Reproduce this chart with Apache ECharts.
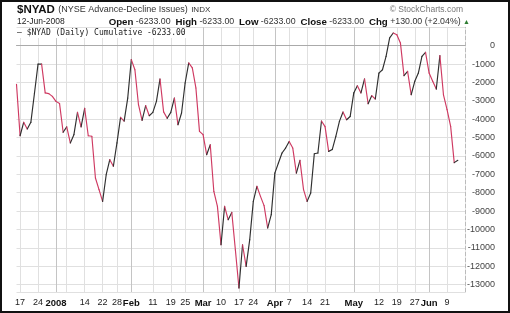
<!DOCTYPE html>
<html><head><meta charset="utf-8">
<script src="https://cdn.jsdelivr.net/npm/echarts@6/dist/echarts.min.js"></script>
<style>html,body{margin:0;padding:0;background:#fff}#c{width:510px;height:313px}</style>
</head><body><div id="c"></div>
<script>
// Trading days by month
const dec07 = [14,17,18,19,20,21,24,26,27,28,31];
const jan08 = [2,3,4,7,8,9,10,11,14,15,16,17,18,22,23,24,25,28,29,30,31];
const feb08 = [1,4,5,6,7,8,11,12,13,14,15,19,20,21,22,25,26,27,28,29];
const mar08 = [3,4,5,6,7,10,11,12,13,14,17,18,19,20,24,25,26,27,28,31];
const apr08 = [1,2,3,4,7,8,9,10,11,14,15,16,17,18,21,22,23,24,25,28,29,30];
const may08 = [1,2,5,6,7,8,9,12,13,14,15,16,19,20,21,22,23,27,28,29,30];
const jun08 = [2,3,4,5,6,9,10,11,12];

// $NYAD cumulative values (one per trading day)
const decVals = [-2100,-4900,-4170,-4530,-4170,-2600,-1000,-1000,-2570,-2610,-2760];
const janVals = [-3030,-3150,-4710,-4420,-5290,-4840,-3630,-4420,-3410,-4900,-4930,-7200,-7830,-8470,-7020,-6200,-6560,-5290,-3900,-4100,-2850];
const febVals = [-760,-1310,-3210,-4060,-3260,-3810,-3630,-3030,-1810,-3600,-3950,-3630,-2850,-4300,-3660,-2030,-940,-1210,-2300,-4660];
const marVals = [-4840,-5930,-5390,-7930,-8740,-10830,-8740,-9470,-9070,-11100,-13180,-10830,-12010,-10550,-8470,-7650,-8200,-8700,-9920,-9190];
const aprVals = [-6930,-6380,-5840,-5570,-5210,-5570,-6930,-6240,-7830,-8470,-8010,-5880,-5840,-4100,-4400,-5750,-5650,-4930,-4120,-3610,-4030,-3850];
const mayVals = [-2570,-2180,-2570,-1810,-3160,-2720,-2900,-1490,-1310,-580,420,690,600,150,-1630,-1400,-2670,-1940,-1490,-580,-360];
const junVals = [-1490,-1940,-2360,-540,-2670,-3480,-4390,-6363,-6233];

// x tick labels
const tickDates = ['2007-12-17','2007-12-24','2008-01-02','2008-01-14','2008-01-22','2008-01-28','2008-02-01','2008-02-11','2008-02-19','2008-02-25','2008-03-03','2008-03-10','2008-03-17','2008-03-24','2008-04-01','2008-04-07','2008-04-14','2008-04-21','2008-05-01','2008-05-12','2008-05-19','2008-05-27','2008-06-02','2008-06-09'];
const tickLabels = ['17','24','2008','14','22','28','Feb','11','19','25','Mar','10','17','24','Apr','7','14','21','May','12','19','27','Jun','9'];
const boldLabels = ['2008','Feb','Mar','Apr','May','Jun'];
const extraGridDates = ['2008-01-07'];

const pad = n => (n < 10 ? '0' + n : '' + n);
const monthDefs = [[2007,12,dec07],[2008,1,jan08],[2008,2,feb08],[2008,3,mar08],[2008,4,apr08],[2008,5,may08],[2008,6,jun08]];
const categories = [];
monthDefs.forEach(([y,m,days]) => days.forEach(d => categories.push(y + '-' + pad(m) + '-' + pad(d))));
const values = [].concat(decVals, janVals, febVals, marVals, aprVals, mayVals, junVals);
const axisCats = categories.concat(['_p1','_p2']);
const monthStarts = ['2008-01-02','2008-02-01','2008-03-03','2008-04-01','2008-05-01','2008-06-02'];

const segs = values.slice(1).map((v,k) => [k + 1, values[k], v]);
const upColor = '#2f2f2f', downColor = '#cf3a62';

const chart = echarts.init(document.getElementById('c'), null, {renderer:'canvas'});
const FONT = 'Liberation Sans, Arial, sans-serif';
chart.setOption({
  animation:false,
  backgroundColor:'#fff',
  textStyle:{fontFamily:FONT},
  grid:{left:16.5, right:45, top:27.3, bottom:21, containLabel:false, outerBoundsMode:'none'},
  xAxis:[{
    type:'category', data:axisCats, boundaryGap:false,
    axisLine:{show:true, lineStyle:{color:'#aaa', width:1}},
    axisTick:{show:false},
    axisLabel:{
      interval:(idx,val) => tickDates.indexOf(val) >= 0,
      formatter:(val) => { const t = tickLabels[tickDates.indexOf(val)]; return boldLabels.indexOf(t) >= 0 ? '{b|' + t + '}' : t; },
      rich:{b:{fontWeight:'bold', fontSize:9.5, color:'#111', fontFamily:FONT}},
      fontSize:9, color:'#222', margin:6, fontFamily:FONT
    },
    splitLine:{show:true, interval:(idx,val) => tickDates.indexOf(val) >= 0 || extraGridDates.indexOf(val) >= 0, lineStyle:{color:'#e0e0e0', width:1}}
  },{
    type:'category', data:axisCats, boundaryGap:false, position:'top',
    axisLine:{show:false}, axisTick:{show:false}, axisLabel:{show:false},
    splitLine:{show:true, interval:(idx,val) => monthStarts.indexOf(val) >= 0, lineStyle:{color:'#c4c4c4', width:1}}
  }],
  yAxis:{
    type:'value', position:'right', min:-13400, max:1000, splitNumber:14, minInterval:1000, maxInterval:1000,
    axisLine:{show:true, lineStyle:{color:'#bbb', type:'dashed'}},
    axisTick:{show:false},
    splitLine:{show:true, lineStyle:{color:'#e0e0e0', width:1}},
    axisLabel:{align:'right', margin:30, fontSize:9, color:'#444', fontFamily:FONT,
      formatter:(v) => (v > 0 || v % 1000 !== 0) ? '' : String(v)}
  },
  series:[{
    type:'custom',
    data:segs,
    encode:{x:0, y:[1,2]},
    clip:false,
    renderItem:(params, api) => {
      const i = api.value(0), a = api.value(1), b = api.value(2);
      const p0 = api.coord([i - 1, a]);
      const p1 = api.coord([i, b]);
      return {type:'line', shape:{x1:p0[0], y1:p0[1], x2:p1[0], y2:p1[1]},
        style:{stroke: b >= a ? upColor : downColor, lineWidth:1.15, lineCap:'round'}};
    }
  }],
  graphic:[
    {type:'rect', shape:{x:1, y:1, width:508, height:311}, style:{fill:'none', stroke:'#111', lineWidth:2}, silent:true},
    {type:'text', x:17, y:10, style:{text:'{t|$NYAD} {s|(NYSE Advance-Decline Issues)} {x|INDX}', verticalAlign:'middle',
      rich:{t:{fontSize:11.5, fontWeight:'bold', fill:'#111', fontFamily:FONT}, s:{fontSize:9, fill:'#333', fontFamily:FONT}, x:{fontSize:8, fill:'#333', fontFamily:FONT}}}},
    {type:'text', x:17, y:22, style:{text:'12-Jun-2008', fontSize:8.5, fill:'#222', fontFamily:FONT, verticalAlign:'middle'}},
    {type:'text', x:470, y:22, style:{text:'{b|Open} -6233.00  {b|High} -6233.00  {b|Low} -6233.00  {b|Close} -6233.00  {b|Chg} +130.00 (+2.04%) {g|▲}',
      align:'right', verticalAlign:'middle', fontSize:8.8, fill:'#333', fontFamily:FONT,
      rich:{b:{fontWeight:'bold', fontSize:9.7, fill:'#111', fontFamily:FONT}, g:{fontSize:7, fill:'#2e7d32'}}}},
    {type:'text', x:463, y:10, style:{text:'© StockCharts.com', align:'right', verticalAlign:'middle', fontSize:8.5, fill:'#777', fontFamily:FONT}},
    {type:'text', x:17, y:33, z:100, style:{text:'— $NYAD (Daily) Cumulative -6233.00', verticalAlign:'middle', fontSize:8, fill:'#222',
      fontFamily:'DejaVu Sans Mono, monospace', backgroundColor:'#fff', padding:[1,2,1,0]}}
  ]
});
</script></body></html>
